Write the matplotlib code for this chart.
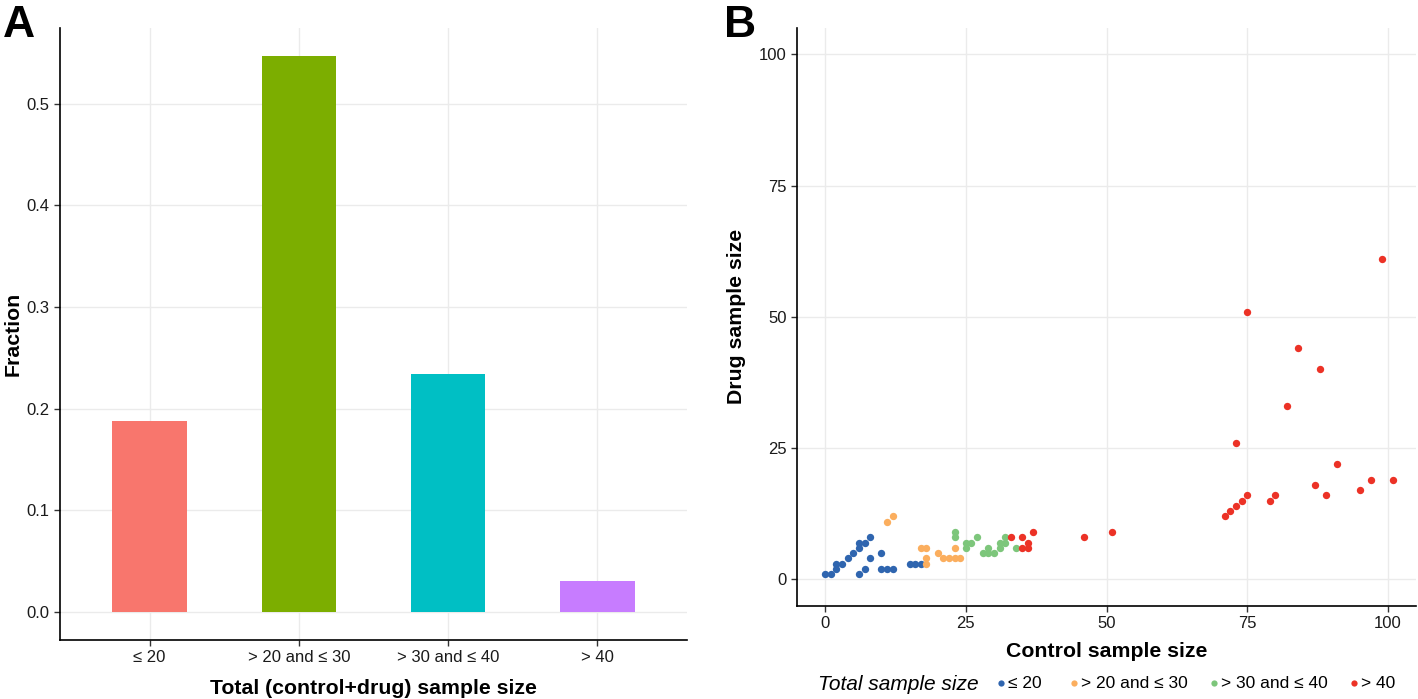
import matplotlib
matplotlib.use("Agg")
import matplotlib.pyplot as plt
from matplotlib.lines import Line2D

plt.rcParams['font.family'] = ['Liberation Sans', 'DejaVu Sans']

# Panel A data
categories = ["≤ 20", "> 20 and ≤ 30", "> 30 and ≤ 40", "> 40"]
fractions = [0.1875, 0.547, 0.234, 0.031]
bar_colors = ["#F8766D", "#7CAE00", "#00BFC4", "#C77CFF"]

# Panel B data (control, drug) per group
le20_control = [0, 1, 2, 2, 3, 4, 5, 6, 6, 7, 8, 6, 7, 8, 10, 10, 11, 12, 15, 16, 17]
le20_drug =    [1, 1, 2, 3, 3, 4, 5, 6, 7, 7, 8, 1, 2, 4, 5, 2, 2, 2, 3, 3, 3]
g20_control = [11, 12, 17, 18, 18, 18, 20, 21, 22, 23, 23, 24]
g20_drug =    [11, 12, 6, 6, 4, 3, 5, 4, 4, 4, 6, 4]
g30_control = [23, 23, 25, 25, 26, 27, 28, 29, 29, 30, 31, 31, 32, 32, 34]
g30_drug =    [9, 8, 7, 6, 7, 8, 5, 6, 5, 5, 6, 7, 7, 8, 6]
g40_control = [33, 35, 36, 35, 36, 37, 46, 51, 75, 84, 88, 82, 73, 91, 87, 89,
               95, 97, 101, 75, 74, 73, 72, 71, 79, 80, 99]
g40_drug =    [8, 8, 7, 6, 6, 9, 8, 9, 51, 44, 40, 33, 26, 22, 18, 16,
               17, 19, 19, 16, 15, 14, 13, 12, 15, 16, 61]
group_labels = ["≤ 20", "> 20 and ≤ 30", "> 30 and ≤ 40", "> 40"]
group_colors = ["#2F65AF", "#FBAE5E", "#7DC67B", "#EC3226"]

fig = plt.figure(figsize=(14.18, 6.99), dpi=100)
grid_c = "#EBEBEB"
tick_fs = 12
lab_fs = 15.3

# ---- Panel A
axA = fig.add_axes([60/1418, 59/699, 627/1418, 612/699])
xs = list(range(1, len(categories) + 1))
axA.bar(xs, fractions, width=0.5, color=bar_colors, zorder=2)
axA.set_xlim(0.4, 4.6)
axA.set_ylim(-0.0274, 0.5744)
axA.set_yticks([0.0, 0.1, 0.2, 0.3, 0.4, 0.5])
axA.set_yticklabels(["0.0", "0.1", "0.2", "0.3", "0.4", "0.5"])
axA.set_xticks(xs)
axA.set_xticklabels(categories)
axA.set_xlabel("Total (control+drug) sample size", fontsize=lab_fs, fontweight="bold", labelpad=10)
axA.set_ylabel("Fraction", fontsize=lab_fs, fontweight="bold", labelpad=3)

# ---- Panel B
axB = fig.add_axes([797/1418, 93.3/699, 619/1418, 577.7/699])
for cx, dy, c in [(le20_control, le20_drug, group_colors[0]),
                  (g20_control, g20_drug, group_colors[1]),
                  (g30_control, g30_drug, group_colors[2]),
                  (g40_control, g40_drug, group_colors[3])]:
    axB.scatter(cx, dy, s=28, color=c, linewidths=0, zorder=3)
axB.set_xlim(-5, 105)
axB.set_ylim(-5, 105)
axB.set_xticks([0, 25, 50, 75, 100])
axB.set_yticks([0, 25, 50, 75, 100])
axB.set_xlabel("Control sample size", fontsize=lab_fs, fontweight="bold", labelpad=8)
axB.set_ylabel("Drug sample size", fontsize=lab_fs, fontweight="bold", labelpad=9)

for ax in (axA, axB):
    ax.grid(True, color=grid_c, linewidth=1.0, zorder=0)
    ax.set_axisbelow(True)
    for s in ("top", "right"):
        ax.spines[s].set_visible(False)
    for s in ("left", "bottom"):
        ax.spines[s].set_color("black")
        ax.spines[s].set_linewidth(1.2)
    ax.tick_params(axis="both", labelsize=tick_fs, length=4, width=1, color="#333333",
                   labelcolor="#1A1A1A", direction="out")

# Legend below panel B (manual horizontal layout like ggplot)
leg_y = 1 - 684/699
fig.text(818/1418, leg_y, "Total sample size", fontsize=15, style="italic",
         va="center", ha="left")
dot_x = [1001, 1074, 1214, 1354]
for px, lab, c in zip(dot_x, group_labels, group_colors):
    fig.add_artist(Line2D([px/1418], [leg_y + 1.5/699], transform=fig.transFigure, marker="o",
                          linestyle="", markersize=4.5, markerfacecolor=c,
                          markeredgewidth=0))
    fig.text((px + 7)/1418, leg_y, lab, fontsize=12.5, va="center", ha="left")

# Panel letters
fig.text(3/1418, 1 - 37/699, "A", fontsize=32, fontweight="bold", va="baseline", ha="left")
fig.text(724/1418, 1 - 37/699, "B", fontsize=32, fontweight="bold", va="baseline", ha="left")

fig.savefig("out.png", dpi=100)
